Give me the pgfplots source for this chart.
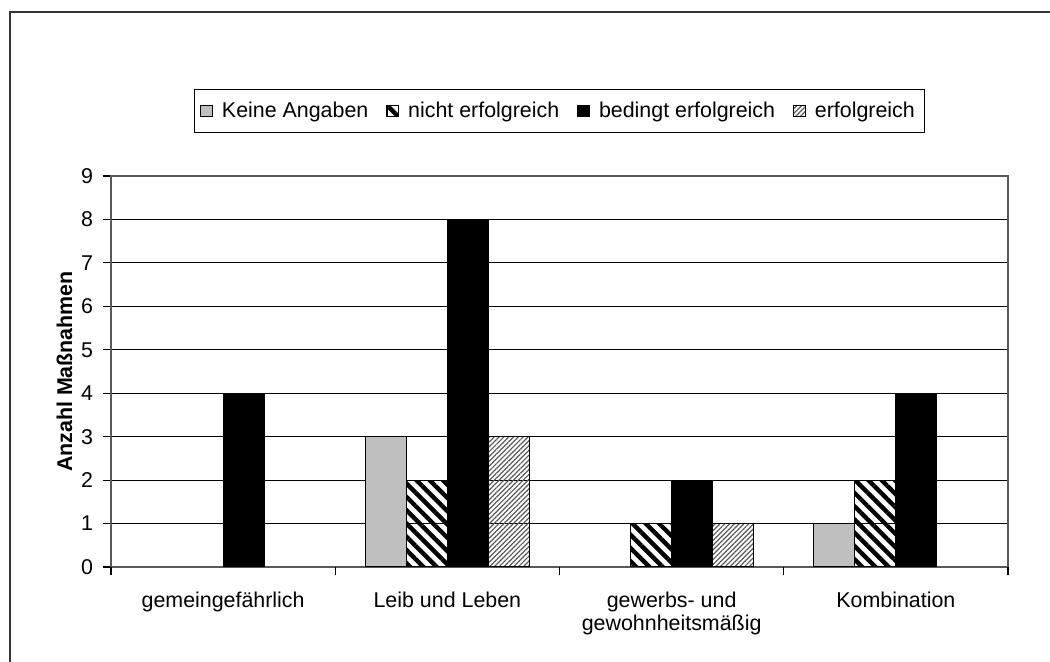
\documentclass[border=0pt]{standalone}
\usepackage{fontspec}
\setmainfont{Liberation Sans}
\usepackage{pgfplots}
\pgfplotsset{compat=1.18}
\usetikzlibrary{patterns.meta}

\begin{document}
\begin{tikzpicture}
\useasboundingbox (-55.5pt,-47.5pt) rectangle (469.5pt,283.5pt);
\draw[line width=0.9pt, black!80] (-50.5pt,-80pt) rectangle (490pt,277.5pt);

\begin{axis}[
  at={(0,0)}, anchor=south west,
  scale only axis,
  width=448.5pt, height=195.5pt,
  ybar=0pt, bar width=20.5pt,
  xmin=-0.5, xmax=3.5,
  ymin=0, ymax=9,
  ytick={0,...,9},
  xtick={0,1,2,3},
  xticklabels={gemeingefährlich, Leib und Leben, {gewerbs- und\\gewohnheitsmäßig}, Kombination},
  xtick pos=bottom, ytick pos=left,
  major x tick style={draw=none},
  extra x ticks={-0.5,0.5,1.5,2.5,3.5},
  extra x tick labels={},
  extra x tick style={major x tick style={draw=black, line width=0.6pt}, grid=none},
  tick align=outside,
  major tick length=4pt,
  ytick style={black, line width=0.6pt},
  ymajorgrids,
  grid style={black, line width=0.6pt},
  axis line style={gray!70!black, line width=0.8pt},
  font=\fontsize{10.7}{12}\selectfont,
  /pgf/number format/assume math mode=true,
  xticklabel style={align=center, yshift=-5pt, font=\fontsize{10.7}{11.5}\selectfont},
  yticklabel style={xshift=-1.5pt},
  ylabel={\bfseries Anzahl Maßnahmen},
  every axis y label/.style={at={(axis description cs:-0.052,0.5)}, rotate=90, anchor=center},
  legend columns=4,
  legend style={at={(0.5,1.166)}, anchor=center, draw=black, line width=0.6pt,
    inner xsep=3pt, inner ysep=4pt, font=\fontsize{10.7}{12}\selectfont,
    /tikz/every odd column/.append style={column sep=2.5pt},
    /tikz/every even column/.append style={column sep=7pt}},
  legend image code/.code={\draw[#1, line width=0.6pt] (0pt,-2.8pt) rectangle (5.8pt,3pt);},
  every axis plot/.append style={draw=black, line width=0.6pt},
]
\addplot[fill=gray!50] coordinates {(1,3) (3,1)};
\addplot[pattern={Lines[angle=-45, distance=4.7pt, line width=2.2pt]}, pattern color=black] coordinates {(1,2) (2,1) (3,2)};
\addplot[fill=black] coordinates {(0,4) (1,8) (2,2) (3,4)};
\addplot[pattern={Lines[angle=45, distance=1.7pt, line width=0.6pt]}, pattern color=gray!70!black] coordinates {(1,3) (2,1)};
\legend{Keine Angaben, nicht erfolgreich, bedingt erfolgreich, erfolgreich}
\end{axis}
\end{tikzpicture}
\end{document}
